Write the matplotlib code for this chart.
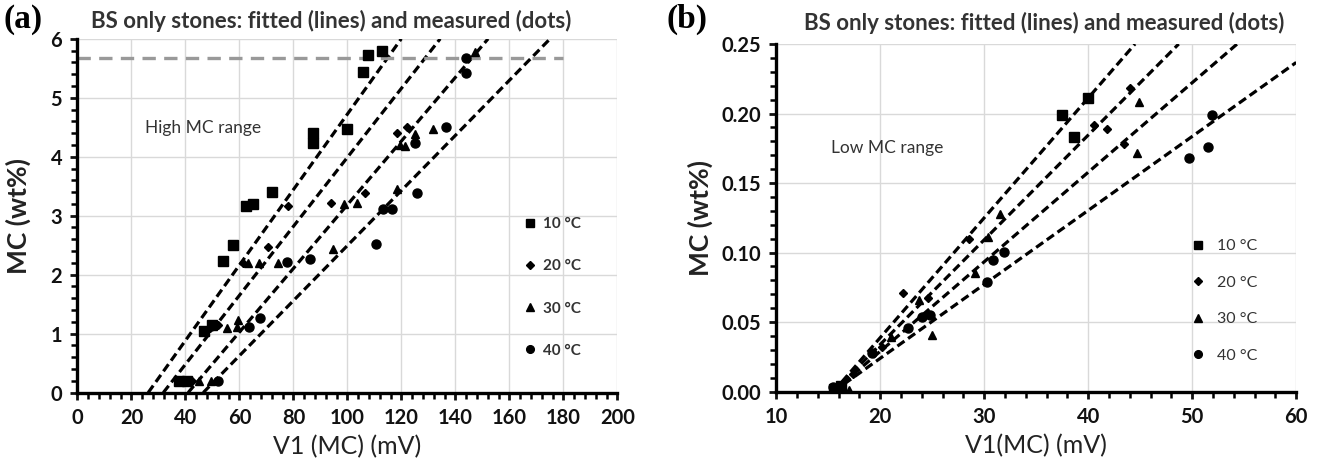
import matplotlib
matplotlib.use("Agg")
import matplotlib.pyplot as plt
from matplotlib.ticker import MultipleLocator
from matplotlib.lines import Line2D

plt.rcParams['font.family'] = ['Lato', 'DejaVu Sans']

temps = ["10 \u00b0C", "20 \u00b0C", "30 \u00b0C", "40 \u00b0C"]
markers = ["s", "D", "^", "o"]
msizes = [6.5, 4.5, 6, 6.5]

# panel (a): high MC range, measured points
a_x = [
    [37.5, 40.5, 46.9, 49.7, 54.0, 57.5, 62.3, 64.9, 72.1, 87.3, 87.3, 99.7, 105.9, 107.7, 112.7],
    [42.5, 52.1, 61.4, 70.7, 78.1, 93.8, 106.5, 118.2, 121.9, 49.0],
    [45.0, 49.5, 55.3, 59.0, 59.6, 63.0, 67.3, 74.4, 94.7, 98.7, 103.4, 118.2, 119.4, 121.3, 125.0, 131.8, 147.2],
    [39.8, 52.1, 63.6, 67.6, 77.8, 86.1, 110.6, 113.0, 116.4, 125.0, 125.9, 136.7, 143.8, 143.8],
]
a_y = [
    [0.20, 0.20, 1.05, 1.15, 2.23, 2.51, 3.17, 3.20, 3.40, 4.40, 4.24, 4.47, 5.44, 5.72, 5.79],
    [0.19, 1.15, 2.19, 2.47, 3.17, 3.21, 3.38, 4.40, 4.50, 1.10],
    [0.19, 0.19, 1.09, 1.12, 1.23, 2.19, 2.19, 2.19, 2.43, 3.20, 3.22, 3.45, 4.20, 4.19, 4.38, 4.47, 5.78],
    [0.20, 0.19, 1.12, 1.26, 2.22, 2.26, 2.52, 3.12, 3.12, 4.24, 3.38, 4.51, 5.67, 5.42],
]
# fitted lines: x-intercept and slope
a_x0 = [26.2, 31.8, 41.0, 46.6]
a_slope = [0.0640, 0.0585, 0.0540, 0.0467]
a_limit = 5.68

# panel (b): low MC range
b_x = [
    [15.6, 16.2, 37.5, 38.65, 40.0],
    [15.8, 17.4, 20.2, 22.24, 24.6, 28.5, 40.6, 41.8, 43.4, 44.0],
    [15.9, 17.0, 21.0, 23.7, 24.97, 29.1, 30.4, 31.5, 44.7, 44.9],
    [15.5, 16.15, 19.2, 22.7, 24.0, 24.8, 30.25, 30.8, 31.9, 49.7, 51.5, 51.9],
]
b_y = [
    [0.002, 0.004, 0.199, 0.183, 0.2115],
    [0.001, 0.013, 0.032, 0.0712, 0.067, 0.110, 0.192, 0.189, 0.178, 0.218],
    [0.000, 0.001, 0.0396, 0.066, 0.0408, 0.0856, 0.1115, 0.128, 0.1715, 0.208],
    [0.003, 0.0036, 0.0276, 0.0456, 0.054, 0.055, 0.079, 0.095, 0.1007, 0.168, 0.176, 0.199],
]
b_x0 = [15.5, 15.5, 15.5, 15.5]
b_slope = [0.00862, 0.00753, 0.00644, 0.00532]

title = "BS only stones: fitted (lines) and measured (dots)"

fig = plt.figure(figsize=(13.2, 4.73), dpi=100)
ax1 = fig.add_axes([0.0587, 0.170, 0.409, 0.748])
ax2 = fig.add_axes([0.588, 0.172, 0.394, 0.735])


def style(ax, xmaj, xmin, ymaj, ymin):
    ax.xaxis.set_major_locator(MultipleLocator(xmaj))
    ax.xaxis.set_minor_locator(MultipleLocator(xmin))
    ax.yaxis.set_major_locator(MultipleLocator(ymaj))
    ax.yaxis.set_minor_locator(MultipleLocator(ymin))
    ax.grid(True, which='major', color='#d9d9d9', lw=1.0)
    ax.set_axisbelow(True)
    for s in ['top', 'right']:
        ax.spines[s].set_visible(False)
    for s in ['left', 'bottom']:
        ax.spines[s].set_linewidth(2.4)
    ax.tick_params(which='major', direction='out', length=5, width=2, pad=6,
                   colors='#111111')
    ax.tick_params(which='minor', direction='out', length=4, width=1.8)


def bold_ticks(ax):
    for lab in ax.get_xticklabels() + ax.get_yticklabels():
        lab.set_fontsize(14.5)
        lab.set_fontweight('bold')


def draw(ax, xs, ys, x0s, slopes):
    handles = []
    for i in range(4):
        ax.axline((x0s[i], 0), slope=slopes[i], color='black', lw=2.3,
                  ls=(0, (2.7, 1.4)), zorder=2)
        ax.plot(xs[i], ys[i], ls='none', marker=markers[i], ms=msizes[i],
                color='black', zorder=3)
        handles.append(Line2D([], [], ls='none', marker=markers[i],
                              ms=msizes[i] * 0.85, color='black'))
    return handles


h1 = draw(ax1, a_x, a_y, a_x0, a_slope)
ax1.plot([0, 180], [a_limit, a_limit], color='#999999', lw=2.4, ls=(0, (4, 2.5)), zorder=2)
ax1.set_xlim(0, 200)
ax1.set_ylim(0, 6)
style(ax1, 20, 4, 1, 0.2)
bold_ticks(ax1)
ax1.set_xlabel("V1 (MC) (mV)", fontsize=18, labelpad=5, color='#222222')
ax1.set_ylabel("MC (wt%)", fontsize=19, fontweight='bold', labelpad=14, color='#222222')
ax1.text(46.5, 4.48, "High MC range", fontsize=12.5, color='#333333',
         ha='center', va='center')
leg1 = ax1.legend(h1, temps, loc='upper left', bbox_to_anchor=(0.795, 0.535),
                  frameon=False, fontsize=11, labelspacing=1.85,
                  handletextpad=0.3, handlelength=1.2)
for t in leg1.get_texts():
    t.set_fontweight('bold')
    t.set_color('#333333')
ax1.set_title(title, fontsize=16, fontweight='bold', color='#333333', pad=8, x=0.47)
fig.text(0.003, 0.958, "(a)", family='Liberation Serif', fontweight='bold',
         fontsize=24, va='center')

h2 = draw(ax2, b_x, b_y, b_x0, b_slope)
ax2.set_xlim(10, 60)
ax2.set_ylim(0, 0.25)
style(ax2, 10, 2, 0.05, 0.01)
ax2.yaxis.set_major_formatter(plt.FormatStrFormatter('%.2f'))
bold_ticks(ax2)
ax2.set_xlabel("V1(MC) (mV)", fontsize=18, labelpad=5, color='#222222')
ax2.set_ylabel("MC (wt%)", fontsize=19, fontweight='bold', labelpad=6, color='#222222')
ax2.text(20.7, 0.175, "Low MC range", fontsize=12.5, color='#333333',
         ha='center', va='center')
leg2 = ax2.legend(h2, temps, loc='upper left', bbox_to_anchor=(0.765, 0.48),
                  frameon=False, fontsize=11.5, labelspacing=1.4,
                  handletextpad=0.6, handlelength=1.2)
for t in leg2.get_texts():
    t.set_color('#333333')
ax2.set_title(title, fontsize=16, fontweight='bold', color='#333333', pad=10, x=0.515)
fig.text(0.505, 0.958, "(b)", family='Liberation Serif', fontweight='bold',
         fontsize=24, va='center')

fig.savefig("out.png", dpi=100)
